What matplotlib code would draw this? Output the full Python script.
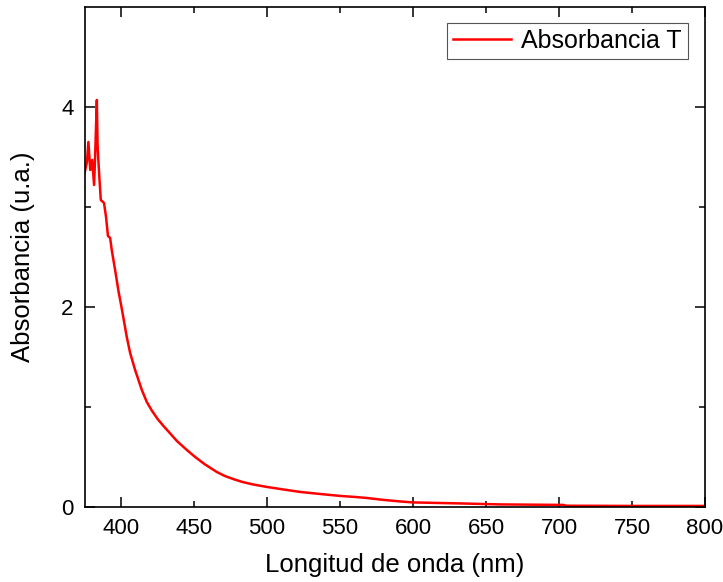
import numpy as np
import matplotlib
matplotlib.use("Agg")
import matplotlib.pyplot as plt

plt.rcParams['font.family'] = ['Liberation Sans', 'DejaVu Sans']

# Absorbance spectrum
wavelength = [375.0, 376.6, 377.6, 378.9, 380.2, 381.5, 382.2, 383.4, 383.9, 384.5,
              385.1, 386.1, 388.3, 389.7, 391.0, 392.5, 393.6, 395.9, 398.2, 400.0,
              401.6, 403.9, 406.2, 409.6, 414.2, 417.6, 421.0, 425.0, 429.0, 433.0,
              438.2, 445.0, 450.7, 457.0, 465.5, 471.0, 477.0, 483.0, 490.0, 499.8,
              511.0, 522.6, 536.0, 550.0, 560.0, 568.0, 580.0, 591.0, 600.0, 632.0,
              660.0, 703.0, 705.0, 750.0, 800.0]
absorbance = [3.34, 3.45, 3.65, 3.37, 3.47, 3.22, 3.50, 4.07, 3.62, 3.45,
              3.30, 3.07, 3.04, 2.90, 2.71, 2.69, 2.57, 2.37, 2.16, 2.02,
              1.89, 1.70, 1.54, 1.37, 1.17, 1.05, 0.965, 0.88, 0.81, 0.745,
              0.66, 0.57, 0.50, 0.43, 0.35, 0.31, 0.278, 0.25, 0.226, 0.20,
              0.175, 0.15, 0.13, 0.11, 0.10, 0.09, 0.07, 0.055, 0.045, 0.035,
              0.025, 0.02, 0.012, 0.01, 0.01]

x_major = [400, 500, 600, 700, 800]
x_minor = [450, 550, 650, 750]
y_major = [0, 2, 4]
y_minor = [1, 3]

fig = plt.figure(figsize=(7.23, 5.82), dpi=100)
ax = fig.add_axes([0.117, 0.129, 0.858, 0.859])

ax.plot(wavelength, absorbance, color='red', linewidth=1.8, label='Absorbancia T')

ax.set_xlim(375, 800)
ax.set_ylim(0, 5)

ax.set_xticks(x_major)
ax.set_xticks(x_minor, minor=True)
ax.set_xticklabels([str(v) for v in x_major])
ax.set_xticklabels([str(v) for v in x_minor], minor=True)
ax.set_yticks(y_major)
ax.set_yticks(y_minor, minor=True)

ax.tick_params(which='both', direction='in', top=True, right=True,
               labelsize=16, pad=8, width=1.1)
ax.tick_params(which='major', length=7)
ax.tick_params(which='minor', length=4)
for s in ax.spines.values():
    s.set_linewidth(1.2)

ax.set_xlabel('Longitud de onda (nm)', fontsize=18.5, labelpad=10)
ax.set_ylabel('Absorbancia (u.a.)', fontsize=18.5)
ax.yaxis.set_label_coords(-0.08, 0.5)

leg = ax.legend(loc='upper right', fontsize=18, fancybox=False, framealpha=1,
                edgecolor='#555555', handlelength=2.3, handletextpad=0.4,
                borderpad=0.25, borderaxespad=0,
                bbox_to_anchor=(0.9725, 0.968))
leg.get_frame().set_linewidth(0.8)

fig.savefig('out.png', dpi=100)
